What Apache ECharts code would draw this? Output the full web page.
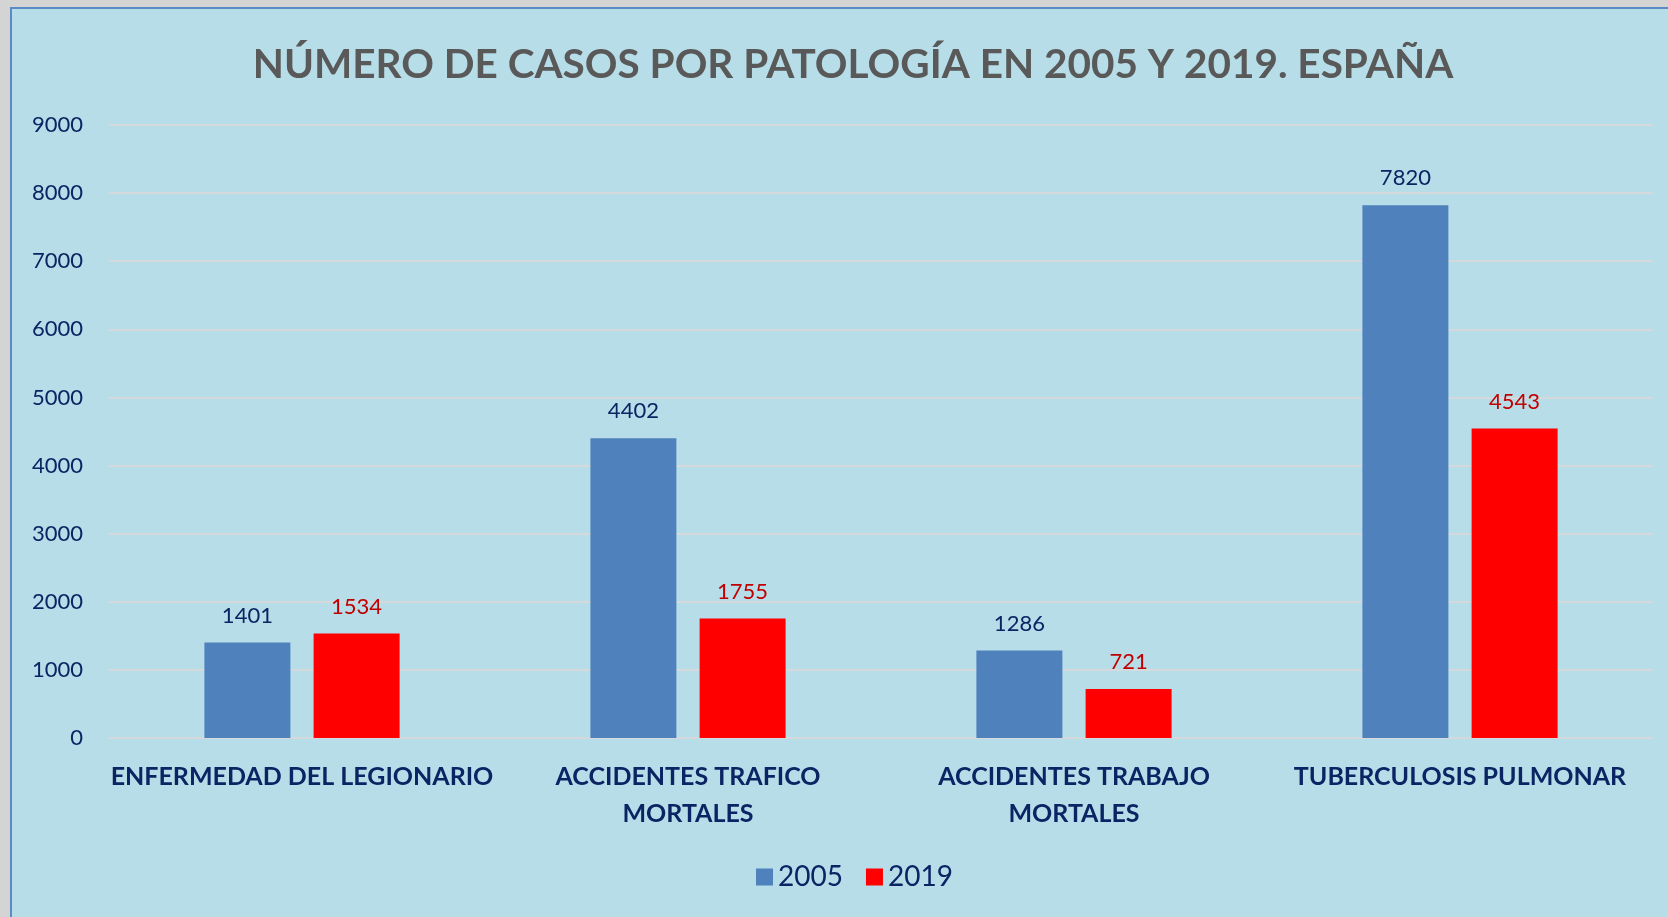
<!DOCTYPE html>
<html>
<head>
<meta charset="utf-8">
<script src="https://cdn.jsdelivr.net/npm/echarts@6/dist/echarts.min.js"></script>
<style>
  html, body { margin: 0; padding: 0; background: #d4d4d4; }
  .frame {
    position: absolute; left: 10px; top: 7px; right: -4px; bottom: -4px;
    background: #b7dde8; border-left: 2px solid #5b8ac6; border-top: 2px solid #5b8ac6;
  }
  #chart { position: absolute; left: 0; top: 0; width: 1668px; height: 917px; }
</style>
</head>
<body>
<div class="frame"></div>
<div id="chart"></div>
<script>
const categories = [
  'ENFERMEDAD DEL LEGIONARIO',
  'ACCIDENTES TRAFICO\nMORTALES',
  'ACCIDENTES TRABAJO\nMORTALES',
  'TUBERCULOSIS PULMONAR'
]
const years = ['2005', '2019']
const values2005 = [1401, 4402, 1286, 7820]
const values2019 = [1534, 1755, 721, 4543]

const navy = '#0b2463'
const font = 'Lato, "Open Sans", sans-serif'

const chart = echarts.init(document.getElementById('chart'))

const option = {
  backgroundColor: 'transparent',
  textStyle: { fontFamily: font },
  title: {
    text: 'NÚMERO DE CASOS POR PATOLOGÍA EN 2005 Y 2019. ESPAÑA',
    left: 848,
    textAlign: 'center',
    top: 39,
    textStyle: { fontFamily: font, fontSize: 40.5, fontWeight: 'bold', color: '#595959' }
  },
  legend: {
    data: years,
    left: 751,
    top: 858,
    itemWidth: 17,
    itemHeight: 17,
    itemGap: 23,
    icon: 'rect',
    textStyle: { fontFamily: font, fontSize: 28, color: navy }
  },
  grid: { left: 109, right: 15, top: 125, bottom: 179, containLabel: false },
  xAxis: {
    type: 'category',
    data: categories,
    axisLine: { show: false },
    axisTick: { show: false },
    axisLabel: {
      margin: 20,
      interval: 0,
      fontFamily: font,
      fontSize: 25,
      fontWeight: 'bold',
      lineHeight: 37,
      color: navy
    }
  },
  yAxis: {
    type: 'value',
    min: 0,
    max: 9000,
    interval: 1000,
    axisLine: { show: false },
    axisTick: { show: false },
    axisLabel: {
      margin: 26,
      fontFamily: font,
      fontSize: 22,
      color: navy,
      formatter: (v) => String(v)
    },
    splitLine: { lineStyle: { color: '#d6d9db', width: 2 } }
  },
  series: [
    {
      name: '2005',
      type: 'bar',
      data: values2005,
      barWidth: 86,
      barGap: '27%',
      itemStyle: { color: '#4f81bd' },
      label: { show: true, position: 'top', distance: 16, fontFamily: font, fontSize: 22, color: navy }
    },
    {
      name: '2019',
      type: 'bar',
      data: values2019,
      barWidth: 86,
      itemStyle: { color: '#ff0000' },
      label: { show: true, position: 'top', distance: 16, fontFamily: font, fontSize: 22, color: '#c00000' }
    }
  ]
}

chart.setOption(option)
</script>
</body>
</html>
